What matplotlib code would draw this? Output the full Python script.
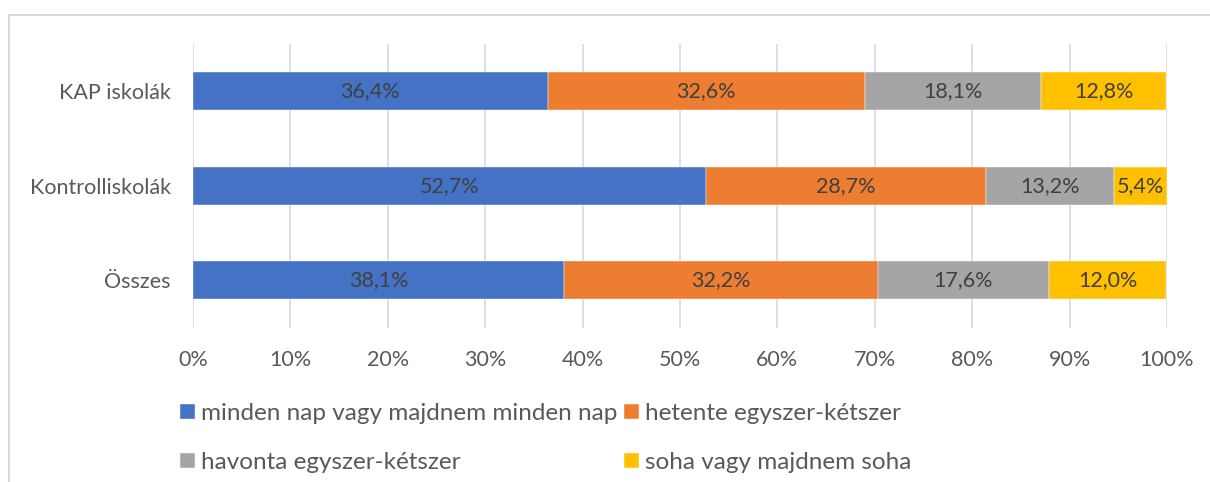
import numpy as np
import matplotlib
matplotlib.use('Agg')
import matplotlib.pyplot as plt
from matplotlib.patches import Rectangle

plt.rcParams['font.family'] = ['Lato', 'DejaVu Sans']

categories = ['KAP iskolák', 'Kontrolliskolák', 'Összes']
series_names = ['minden nap vagy majdnem minden nap', 'hetente egyszer-kétszer',
                'havonta egyszer-kétszer', 'soha vagy majdnem soha']
daily = [36.4, 52.7, 38.1]
weekly = [32.6, 28.7, 32.2]
monthly = [18.1, 13.2, 17.6]
never = [12.8, 5.4, 12.0]
colors = ['#4472C4', '#ED7D31', '#A5A5A5', '#FFC000']
xticks = [0, 10, 20, 30, 40, 50, 60, 70, 80, 90, 100]

fig = plt.figure(figsize=(12.1, 4.82), dpi=100)
# outer chart frame
fig.patches.append(Rectangle((9 / 1210, -0.1), 1.2, 1 - 15 / 482 + 0.1,
                             transform=fig.transFigure, fill=False,
                             edgecolor='#D9D9D9', linewidth=1.5))

ax = fig.add_axes([193 / 1210, 1 - 327.5 / 482, 974 / 1210, 283.5 / 482])

y = np.arange(len(categories))
left = np.zeros(len(categories))
handles = []
for vals, name, col in zip([daily, weekly, monthly, never], series_names, colors):
    bars = ax.barh(y, vals, left=left, height=0.4, color=col, label=name,
                   edgecolor='white', linewidth=0.3, zorder=3)
    handles.append(bars)
    for yi, v, l in zip(y, vals, left):
        ax.text(l + v / 2, yi, f'{v:.1f}%'.replace('.', ','), ha='center',
                va='center', fontsize=15.5, color='#404040', zorder=4)
    left = left + np.array(vals)

ax.set_xlim(0, 100)
ax.set_ylim(-0.5, 2.5)
ax.invert_yaxis()
ax.set_yticks(y)
ax.set_yticklabels(categories, fontsize=15.5)
ax.set_xticks(xticks)
ax.set_xticklabels([f'{t}%' for t in xticks], fontsize=15.5)
ax.tick_params(axis='both', length=0, labelcolor='#595959')
ax.tick_params(axis='x', pad=16)
ax.tick_params(axis='y', pad=16)
ax.grid(axis='x', color='#D9D9D9', linewidth=1.2, zorder=0)
for s in ax.spines.values():
    s.set_visible(False)

order = [0, 2, 1, 3]
leg = fig.legend([handles[i] for i in order], [series_names[i] for i in order],
                 ncol=2, loc='upper left', bbox_to_anchor=(180 / 1210, 1 - 403 / 482),
                 frameon=False, fontsize=17.5, labelcolor='#595959',
                 handlelength=0.6, handleheight=0.6, handletextpad=0.25,
                 columnspacing=0.3, labelspacing=1.15, borderaxespad=0, borderpad=0)

fig.savefig('out.png', dpi=100)
